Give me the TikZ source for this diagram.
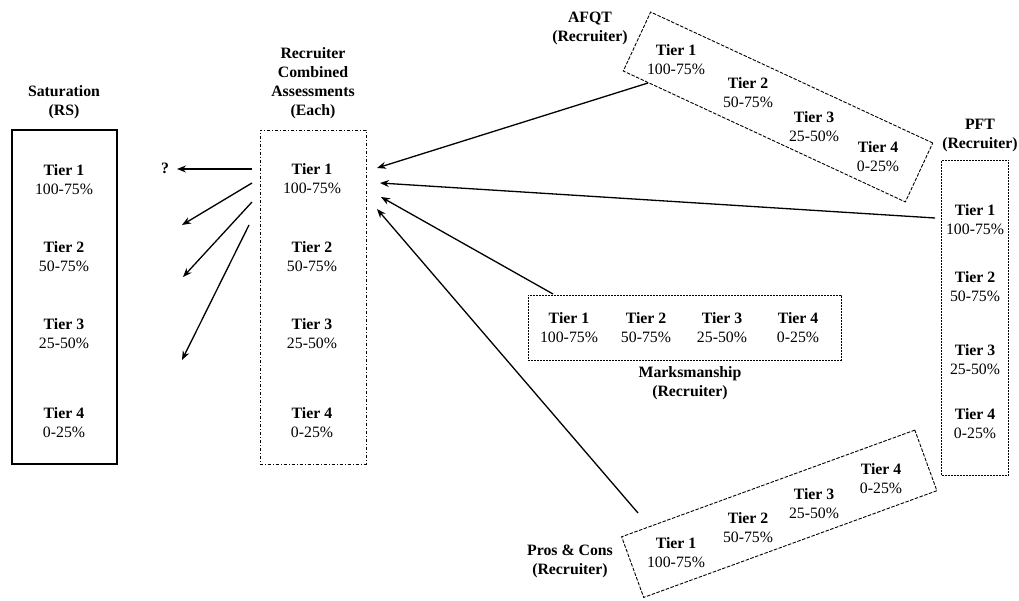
\documentclass[tikz,border=0pt]{standalone}
\usepackage{fontspec}
\setmainfont{Liberation Serif}
\usepackage{tikz}
\usetikzlibrary{arrows.meta}

\begin{document}
\begin{tikzpicture}[x=1pt,y=-1pt,
  tier/.style={align=center,inner sep=0pt,font=\fontsize{15.8}{19}\selectfont},
  ttl/.style={align=center,inner sep=0pt,font=\fontsize{15.8}{19}\selectfont\bfseries},
  satbox/.style={draw,line width=2.6pt,inner sep=0pt},
  combbox/.style={draw,line width=0.8pt,dash pattern=on 3pt off 2pt on 1pt off 2pt,inner sep=0pt},
  dashbox/.style={draw,line width=0.9pt,dash pattern=on 3.5pt off 1.5pt,inner sep=0pt},
  dotbox/.style={draw,line width=0.8pt,dash pattern=on 2pt off 1pt,inner sep=0pt},
  arr/.style={->,>={Stealth[length=9pt,width=7pt]},line width=1.3pt}]
\useasboundingbox (0,0) rectangle (1019,601);

% saturation
\node [satbox,minimum width=105pt,minimum height=334pt] (sat) at (64.5,297) {};
\node [ttl] (satttl) at (64,102) {Saturation\\(RS)};
\node [tier] (s1) at (64,179.5) {\textbf{Tier 1}\\100-75\%};
\node [tier] (s2) at (64,256.5) {\textbf{Tier 2}\\50-75\%};
\node [tier] (s3) at (64,333.5) {\textbf{Tier 3}\\25-50\%};
\node [tier] (s4) at (64,423) {\textbf{Tier 4}\\0-25\%};

% recruiter combined assessments
\node [combbox,minimum width=106pt,minimum height=334pt] (comb) at (313,297) {};
\node [ttl] (combttl) at (313,83.5) {Recruiter\\Combined\\Assessments\\(Each)};
\node [tier] (c1) at (312,178.5) {\textbf{Tier 1}\\100-75\%};
\node [tier] (c2) at (312,256.5) {\textbf{Tier 2}\\50-75\%};
\node [tier] (c3) at (312,333.5) {\textbf{Tier 3}\\25-50\%};
\node [tier] (c4) at (312,422.5) {\textbf{Tier 4}\\0-25\%};

% afqt
\node [dashbox,rotate=-24.9,minimum width=311pt,minimum height=65pt] (afqt) at (778,107) {};
\node [ttl] (afqtttl) at (590,28) {AFQT\\(Recruiter)};
\node [tier] (a1) at (676,59.5) {\textbf{Tier 1}\\100-75\%};
\node [tier] (a2) at (748,93) {\textbf{Tier 2}\\50-75\%};
\node [tier] (a3) at (814,126.5) {\textbf{Tier 3}\\25-50\%};
\node [tier] (a4) at (878,157) {\textbf{Tier 4}\\0-25\%};

% pft
\node [dotbox,minimum width=67pt,minimum height=315pt] (pft) at (975,317.5) {};
\node [ttl] (pftttl) at (980,135.5) {PFT\\(Recruiter)};
\node [tier] (p1) at (975,219.5) {\textbf{Tier 1}\\100-75\%};
\node [tier] (p2) at (975,287) {\textbf{Tier 2}\\50-75\%};
\node [tier] (p3) at (975,359.5) {\textbf{Tier 3}\\25-50\%};
\node [tier] (p4) at (975,424) {\textbf{Tier 4}\\0-25\%};

% marksmanship
\node [dotbox,minimum width=313pt,minimum height=65pt] (mark) at (684.5,327.5) {};
\node [ttl] (markttl) at (690,383.5) {Marksmanship\\(Recruiter)};
\node [tier] (m1) at (569,328) {\textbf{Tier 1}\\100-75\%};
\node [tier] (m2) at (646,328) {\textbf{Tier 2}\\50-75\%};
\node [tier] (m3) at (722,328) {\textbf{Tier 3}\\25-50\%};
\node [tier] (m4) at (798,328) {\textbf{Tier 4}\\0-25\%};

% pros & cons
\node [dashbox,rotate=20,minimum width=312pt,minimum height=64.5pt] (pros) at (779.25,513.75) {};
\node [ttl] (prosttl) at (570,561.5) {Pros \& Cons\\(Recruiter)};
\node [tier] (r1) at (676,553) {\textbf{Tier 1}\\100-75\%};
\node [tier] (r2) at (748,527.5) {\textbf{Tier 2}\\50-75\%};
\node [tier] (r3) at (814,504) {\textbf{Tier 3}\\25-50\%};
\node [tier] (r4) at (881,479) {\textbf{Tier 4}\\0-25\%};

% arrow ends
\coordinate (in-afqt) at (377,168);
\coordinate (in-pft) at (380,183);
\coordinate (in-mark) at (381,197);
\coordinate (in-pros) at (377,209);
\coordinate (out-afqt) at (648,83);
\coordinate (out-pft) at (935,218);
\coordinate (out-mark) at (553,294);
\coordinate (out-pros) at (638,513);
\coordinate (o1) at (252,169);
\coordinate (o2) at (252,183);
\coordinate (o3) at (252,202);
\coordinate (o4) at (249,225);
\coordinate (e2) at (182,225);
\coordinate (e3) at (183,277);
\coordinate (e4) at (182,360);
\node [font=\fontsize{15.8}{19}\selectfont\bfseries,inner sep=0pt] (q) at (165,168) {?};
\coordinate (e1) at (177,169);

\draw [arr] (out-afqt) -- (in-afqt);
\draw [arr] (out-pft) -- (in-pft);
\draw [arr] (out-mark) -- (in-mark);
\draw [arr] (out-pros) -- (in-pros);
\draw [arr] (o1) -- (e1);
\draw [arr] (o2) -- (e2);
\draw [arr] (o3) -- (e3);
\draw [arr] (o4) -- (e4);
\end{tikzpicture}
\end{document}
